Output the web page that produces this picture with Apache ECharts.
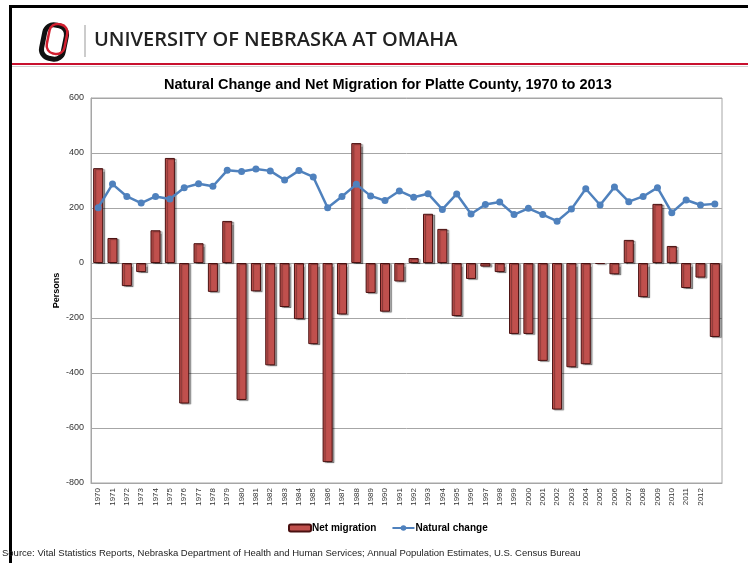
<!DOCTYPE html>
<html>
<head>
<meta charset="utf-8">
<script src="https://cdn.jsdelivr.net/npm/echarts@6/dist/echarts.min.js"></script>
<style>
  html, body { margin: 0; padding: 0; background: #fff; }
  #chart { width: 748px; height: 563px; }
</style>
</head>
<body>
<div id="chart"></div>
<script type="text/javascript">
  // Platte County: natural change vs net migration

  var years = ['1970', '1971', '1972', '1973', '1974', '1975', '1976', '1977', '1978', '1979',
    '1980', '1981', '1982', '1983', '1984', '1985', '1986', '1987', '1988', '1989',
    '1990', '1991', '1992', '1993', '1994', '1995', '1996', '1997', '1998', '1999',
    '2000', '2001', '2002', '2003', '2004', '2005', '2006', '2007', '2008', '2009',
    '2010', '2011', '2012', '2013'];

  var netMigration = [345, 91, -84, -33, 119, 382, -511, 72, -105, 153,
    -498, -103, -372, -160, -204, -295, -724, -187, 436, -109,
    -177, -67, 18, 179, 124, -193, -58, -13, -33, -258,
    -258, -356, -533, -379, -368, -4, -41, 84, -124, 215,
    62, -91, -53, -269];

  var naturalChange = [201, 287, 242, 218, 242, 233, 274, 288, 279, 337,
    333, 342, 335, 302, 336, 313, 201, 242, 286, 244,
    227, 262, 239, 252, 195, 251, 178, 213, 222, 176,
    199, 176, 152, 196, 270, 211, 276, 223, 242, 274,
    183, 229, 211, 215];

  var myChart = echarts.init(document.getElementById('chart'));

  var option = {
    animation: false,
    backgroundColor: '#fff',
    textStyle: { fontFamily: 'Liberation Sans, Arial, sans-serif' },
    title: {
      text: 'Natural Change and Net Migration for Platte County, 1970 to 2013',
      left: 159,
      top: 72,
      textStyle: { fontSize: 14.5, fontWeight: 'bold', color: '#000' }
    },
    graphic: [
      // page frame
      { type: 'line', shape: { x1: 9, y1: 6.5, x2: 748, y2: 6.5 }, style: { stroke: '#000', lineWidth: 3 } },
      { type: 'line', shape: { x1: 10.5, y1: 5, x2: 10.5, y2: 563 }, style: { stroke: '#000', lineWidth: 3 } },
      // header rule
      { type: 'line', shape: { x1: 12, y1: 64, x2: 748, y2: 64 }, style: { stroke: '#c8102e', lineWidth: 2 } },
      { type: 'line', shape: { x1: 12, y1: 66.5, x2: 748, y2: 66.5 }, style: { stroke: '#d0d0d0', lineWidth: 1 } },
      // logo
      {
        type: 'rect', x: 54, y: 42, rotation: -0.2,
        shape: { x: -11, y: -17, width: 22, height: 34, r: 9 },
        style: { fill: 'none', stroke: '#111', lineWidth: 5 }
      },
      {
        type: 'rect', x: 57, y: 39, rotation: -0.2,
        shape: { x: -9, y: -15, width: 18, height: 30, r: 8 },
        style: { fill: 'none', stroke: '#d11f2f', lineWidth: 2.5 }
      },
      { type: 'line', shape: { x1: 85, y1: 25, x2: 85, y2: 57 }, style: { stroke: '#999', lineWidth: 1 } },
      {
        type: 'text', x: 94, y: 40,
        style: {
          text: 'UNIVERSITY OF NEBRASKA AT OMAHA',
          font: '600 20px "Open Sans", "Liberation Sans", sans-serif',
          fill: '#222', textVerticalAlign: 'middle'
        }
      },
      {
        type: 'text', x: 2, y: 553,
        style: {
          text: 'Source: Vital Statistics Reports, Nebraska Department of Health and Human Services; Annual Population Estimates, U.S. Census Bureau',
          font: '9.5px "Liberation Sans", Arial, sans-serif',
          fill: '#222', textVerticalAlign: 'middle'
        }
      }
    ],
    legend: {
      top: 518,
      left: 283,
      itemGap: 15,
      itemWidth: 22,
      itemHeight: 7,
      textStyle: { fontSize: 10, fontWeight: 'bold', color: '#000', padding: [0, 0, 0, -4] },
      data: ['Net migration', 'Natural change']
    },
    grid: {
      left: 91,
      right: 26,
      top: 98,
      bottom: 80,
      show: true,
      borderColor: '#a6a6a6',
      borderWidth: 1
    },
    xAxis: {
      type: 'category',
      data: years,
      axisLine: { onZero: false, lineStyle: { color: '#a6a6a6' } },
      axisTick: { show: false },
      axisLabel: {
        rotate: 90,
        interval: 0,
        fontSize: 8,
        color: '#333',
        margin: 5,
        formatter: function (v, i) { return i < years.length - 1 ? v : ''; }
      }
    },
    yAxis: {
      type: 'value',
      min: -800,
      max: 600,
      interval: 200,
      name: 'Persons',
      nameLocation: 'middle',
      nameGap: 30,
      nameMoveOverlap: false,
      nameTextStyle: { fontSize: 9, fontWeight: 'bold', color: '#000' },
      axisLine: { show: true, lineStyle: { color: '#a6a6a6' } },
      axisTick: { show: false },
      axisLabel: { fontSize: 9, color: '#333', margin: 7 },
      splitLine: { lineStyle: { color: '#a6a6a6', width: 1 } }
    },
    series: [
      {
        name: 'Net migration',
        type: 'bar',
        data: netMigration,
        barWidth: '70%',
        itemStyle: {
          color: '#c0504d',
          borderColor: '#4a1010',
          borderWidth: 1,
          shadowColor: 'rgba(0,0,0,0.35)',
          shadowOffsetX: 2,
          shadowOffsetY: 1,
          shadowBlur: 1
        }
      },
      {
        name: 'Natural change',
        type: 'line',
        data: naturalChange,
        symbol: 'circle',
        symbolSize: 7,
        lineStyle: { color: '#4f81bd', width: 2.5 },
        itemStyle: { color: '#4f81bd' }
      }
    ]
  };

  myChart.setOption(option);

  window.onresize = function () {
    myChart.resize();
  };
</script>
</body>
</html>
